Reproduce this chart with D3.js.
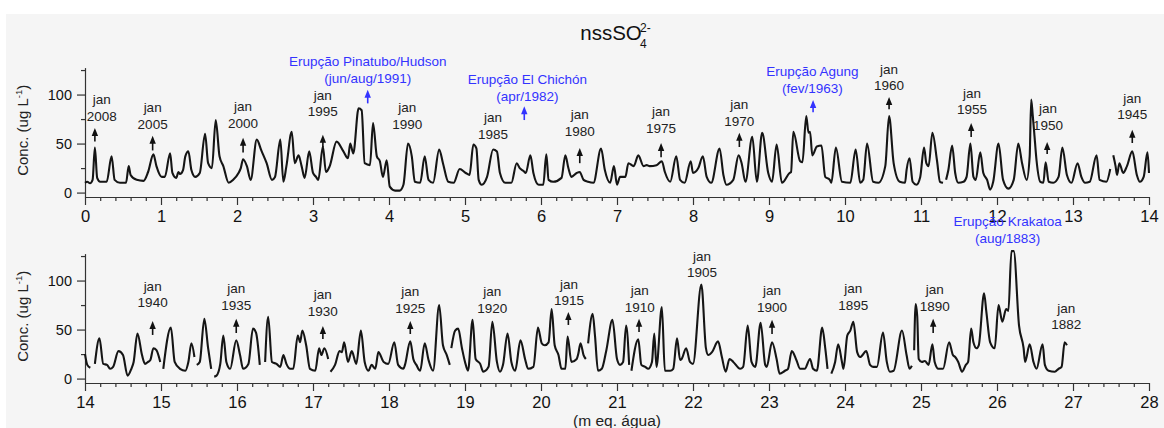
<!DOCTYPE html>
<html>
<head>
<meta charset="utf-8">
<script src="https://cdn.jsdelivr.net/npm/d3@7"></script>
<style>
body{margin:0;background:#fff;}
text{font-family:"Liberation Sans",Arial,sans-serif;}
.axis path,.axis line{stroke:#333;stroke-width:1.2;}
.axis text{fill:#111;font-family:"Liberation Sans",Arial,sans-serif;}
.xaxis text{font-size:16.5px;}
.yaxis text{font-size:14.5px;}
.series{fill:none;stroke:#151515;stroke-width:2.1;stroke-linejoin:round;}
.ann{font-size:13.5px;fill:#222;}
.volc{font-size:13.5px;fill:#3333ff;}
</style>
</head>
<body>
<svg id="chart" width="1164" height="428"></svg>
<script>
// ---- series (depth in m eq. agua, conc. in ug/L), null = gap in record
const topDepth = [0,0.03,0.066,0.10,0.13,0.16,0.20,0.285,0.35,0.39,0.46,0.54,0.575,0.60,0.68,0.77,0.83,0.90,0.94,1.01,
1.05,1.12,1.15,1.20,1.23,1.25,1.29,1.32,1.36,1.40,1.45,1.51,1.58,1.62,1.67,1.72,1.77,1.82,1.89,1.95,
2.02,2.05,2.08,2.13,2.18,2.26,2.32,2.39,2.46,2.50,2.57,2.61,2.65,2.72,2.76,2.81,2.85,2.89,2.95,3.00,
3.04,3.07,3.13,3.17,3.22,3.31,3.40,3.46,3.49,3.53,3.60,3.64,3.68,3.75,3.79,3.84,3.88,3.92,3.97,4.01,
4.08,4.14,4.19,4.25,4.30,4.34,4.41,4.47,4.52,4.58,4.66,4.71,4.78,4.85,4.93,5.01,5.06,5.11,5.15,5.18,
5.22,5.29,5.37,5.42,5.46,5.53,5.61,5.68,5.72,5.77,5.80,5.86,5.90,5.97,6.03,6.07,6.10,6.16,6.27,6.32,
6.36,6.40,6.47,6.51,6.56,6.62,6.69,6.79,6.84,6.91,6.96,7.00,7.04,7.11,7.15,7.22,7.28,7.35,7.39,7.43,
7.52,7.59,7.63,7.70,7.78,7.83,7.89,7.97,8.00,8.07,8.13,8.18,8.24,8.35,8.40,8.44,8.53,8.60,8.64,8.69,
8.78,8.84,8.91,8.99,9.04,9.10,9.17,9.27,9.29,9.32,9.41,9.44,9.49,9.52,9.54,9.57,9.63,9.69,9.74,9.80,
9.82,9.88,9.96,10.07,10.14,10.20,10.24,10.29,10.37,10.44,10.53,10.58,10.64,10.72,10.79,10.81,10.85,10.89,10.94,10.99,
11.04,11.07,11.10,11.15,11.21,11.25,11.29,null,11.33,11.36,11.41,11.45,11.49,11.56,11.60,11.65,11.69,11.72,11.78,11.82,
11.87,11.91,11.95,12.02,12.08,12.15,12.22,12.28,12.33,12.39,12.43,12.45,12.47,12.49,12.52,12.57,12.61,12.64,12.68,12.74,
12.81,12.86,12.92,12.98,13.06,13.11,13.16,13.22,13.31,13.35,13.44,13.49,null,13.53,13.56,13.58,13.61,13.66,13.71,13.78,
13.84,13.88,13.93,13.98,14.0];
const topConc = [10,11,9.5,13,46,15,11,11,37,13,10,10,27,18,13,12,21,39,27,16,
16,40,20,15,21,19,23,37,42,23,16,20,60,30,25,74,37,27,10,13,
20,25,34,27,13,54,43,30,13,16,54,11,27,62,30,38,27,15,42,20,
16,13,47,21,27,52,42,35,50,40,86,84,30,28,71,37,32,16,33,6,
2,2,8,50,37,11,10,37,13,10,44,30,11,10,24,20,18,49,45,13,
8,16,44,42,20,10,10,30,25,22,20,38,20,8,8,39,13,11,15,38,
25,16,20,21,13,11,10,45,23,10,27,8,16,16,30,27,38,27,28,27,
28,32,21,11,37,13,10,32,20,25,37,16,10,45,18,8,13,38,30,11,
57,11,61,20,11,49,10,20,21,62,32,31,78,61,62,38,47,48,16,13,
10,46,11,10,44,10,13,50,11,10,27,78,30,11,10,23,35,11,8,16,
46,30,27,61,33,11,10,null,13,23,48,20,10,11,16,50,16,13,41,20,
13,3,11,50,13,4,13,50,30,13,37,95,79,61,33,11,10,31,11,10,
16,46,18,10,30,16,10,11,38,13,11,24,null,38,27,18,30,20,27,42,
18,11,16,41,20];

const botDepth = [14.00,14.03,14.07,null,14.13,14.19,14.24,14.29,14.33,14.37,14.44,14.50,14.56,14.61,14.64,14.69,14.75,14.79,14.83,14.86,
14.90,14.94,14.99,null,15.03,15.13,15.18,15.25,15.32,15.36,15.40,15.44,null,15.47,15.51,15.57,15.62,15.66,null,15.70,
15.73,15.78,15.82,15.86,15.91,15.99,16.04,16.08,16.15,16.21,16.25,16.30,null,16.37,16.41,16.46,16.52,16.57,16.61,16.65,
16.70,16.74,16.80,16.83,16.86,16.91,16.96,17.03,17.08,17.11,17.15,17.20,null,17.23,17.29,17.35,17.38,17.41,17.46,17.51,
17.57,17.63,17.68,17.73,17.77,17.82,17.86,17.93,17.99,18.07,18.12,18.19,18.21,18.28,18.32,18.36,18.41,18.47,18.52,18.58,
18.66,18.71,18.76,18.80,null,18.82,18.87,18.91,18.96,19.00,19.04,19.10,19.14,19.20,19.24,19.31,19.36,19.42,19.46,19.50,
19.56,19.61,19.66,19.73,19.79,19.83,19.90,19.96,20.01,20.05,20.10,20.14,20.18,20.23,20.27,20.32,20.35,20.40,20.47,20.49,
20.52,20.56,20.59,null,20.62,20.68,20.71,20.75,20.80,20.86,20.94,21.00,21.04,21.08,21.12,21.16,null,21.19,21.28,21.32,
21.37,21.41,21.46,21.49,21.52,21.59,21.63,21.70,21.74,21.79,21.83,21.85,21.91,21.96,22.00,22.11,22.17,22.20,22.25,22.33,
22.38,22.43,22.48,22.53,22.62,22.66,22.72,22.77,22.82,22.89,22.95,22.97,23.04,23.10,23.14,23.21,23.25,23.30,23.36,23.41,
23.47,23.54,23.58,23.63,23.70,23.74,23.77,null,23.82,23.87,23.91,23.96,23.98,24.03,24.07,24.11,24.16,24.20,24.28,24.33,
24.37,24.42,24.50,24.55,24.59,24.64,24.75,24.81,24.85,24.88,null,24.91,24.93,24.95,24.97,25.01,25.05,25.10,25.15,25.18,
25.23,25.29,25.37,25.42,25.45,25.49,25.54,25.59,25.62,25.66,25.69,25.73,25.76,25.83,25.86,25.91,25.97,26.02,26.07,26.12,
26.15,26.19,26.22,26.29,26.35,26.37,26.43,26.48,26.52,26.60,26.63,26.68,26.76,26.81,26.85,26.89,26.92];
const botConc = [25,14,11,null,15,41,15,14,10,12,28,24,3,10,17,46,24,15,17,19,
31,29,17,null,10,52,17,10,8,17,36,22,null,14,17,61,31,10,null,2,
3,15,44,17,10,39,24,10,15,51,47,14,null,17,63,17,15,12,24,15,
10,10,44,37,49,34,10,8,31,24,31,20,null,7,14,28,27,37,17,28,
15,49,17,8,14,10,27,17,15,37,14,10,14,38,20,14,8,36,19,8,
75,34,24,14,null,31,49,51,31,17,8,60,20,15,7,12,58,17,7,14,
46,17,8,39,20,10,12,52,36,34,37,71,34,24,10,10,43,17,20,25,
36,24,20,null,36,66,44,8,10,29,60,20,14,17,54,14,null,8,40,14,
12,10,17,46,12,73,8,8,10,41,19,20,31,17,15,96,31,24,27,38,
22,7,20,17,10,12,54,17,12,57,14,12,37,20,5,8,10,28,19,10,
10,20,10,8,52,31,10,null,5,17,35,17,10,44,49,58,27,22,28,14,
12,12,47,17,7,8,49,24,10,13,null,29,76,64,20,17,18,14,35,17,
10,10,37,24,22,17,7,14,17,51,37,31,34,87,68,37,31,75,58,71,
69,130,130,54,31,17,35,17,10,35,14,8,7,10,12,37,34];

// ---- annotations
const topJanYear  = ["2008","2005","2000","1995","1990","1985","1980","1975","1970","1960","1955","1950","1945"];
const topJanDepth = [0.22,0.89,2.08,3.13,4.24,5.37,6.51,7.58,8.61,10.58,11.67,12.67,13.78];
const topJanLevel = [90,82,83,94.5,82,72,75,78,85,121,96.5,81,91.4];
const topArrowDepth = [0.13,0.89,2.08,3.13,6.51,7.58,8.61,10.58,11.66,12.66,13.78];
const topArrowTip   = [66,58,56,59,45.5,50.6,61,97.6,71,51.6,64];
const topArrowBase  = [52,43,41,46.5,30,36,46.5,85,56.7,39.4,50.6];
const topVolcName  = ["Erupção Pinatubo/Hudson","Erupção El Chichón","Erupção Agung"];
const topVolcDate  = ["(jun/aug/1991)","(apr/1982)","(fev/1963)"];
const topVolcDepth = [3.72,5.82,9.57];
const topVolcLevel = [129,111,119];
const topVolcArrowDepth = [3.72,5.78,9.58];
const topVolcArrowTip   = [105,88,94.5];
const topVolcArrowBase  = [91,74,82];

const botJanYear  = ["1940","1935","1930","1925","1920","1915","1910","1905","1900","1895","1890","1882"];
const botJanDepth = [14.89,15.99,17.13,18.28,19.36,20.37,21.30,22.12,23.04,24.11,25.18,26.91];
const botJanLevel = [89.4,87,81,84,84,91.4,85,120,85,87,86,67];
const botArrowDepth = [14.89,15.99,17.13,18.28,20.36,21.29,23.04,25.16];
const botArrowTip   = [58.8,61,53.7,58.8,68,61,60,61];
const botArrowBase  = [44.5,46.5,40.4,45.5,54.7,47.6,45.5,46.5];
const botVolcName  = ["Erupção Krakatoa"];
const botVolcDate  = ["(aug/1883)"];
const botVolcDepth = [26.14];
const botVolcLevel = [155.7];

const yTicks = [0,50,100];
const yMinorTicks = [25,75,125];

const MARGIN = {left: 85, right: 15};
const PLOT_H = 129.4;
const svg = d3.select("#chart");

svg.append("rect").attr("x",6).attr("y",14).attr("width",1158).attr("height",414).attr("fill","#f5f5f5");

function arrow(g, x, yTip, yBase, colour){
  g.append("line").attr("x1",x).attr("x2",x).attr("y1",yBase).attr("y2",yTip+6)
    .attr("stroke",colour).attr("stroke-width",1.6);
  g.append("path").attr("d",`M${x},${yTip}L${x-3.2},${yTip+8}L${x+3.2},${yTip+8}Z`).attr("fill",colour);
}

function drawPanel(p){
  const x = d3.scaleLinear().domain([p.x0, p.x1]).range([MARGIN.left, 1164 - MARGIN.right]);
  const y = d3.scaleLinear().domain([-4.5, 127.5]).range([p.bottom, p.bottom - PLOT_H]);
  const g = svg.append("g");

  const ticks = d3.range(p.x0, p.x1 + 1);
  const minor = d3.range(p.x0*5, p.x1*5 + 1).filter(d => d % 5 != 0).map(d => d/5);

  g.append("g").attr("class","axis").attr("transform",`translate(0,${p.bottom})`)
    .call(d3.axisBottom(x).tickValues(minor).tickSize(4).tickSizeOuter(0).tickFormat(""))
    .select(".domain").remove();
  g.append("g").attr("class","axis xaxis").attr("transform",`translate(0,${p.bottom})`)
    .call(d3.axisBottom(x).tickValues(ticks).tickSize(8).tickSizeOuter(0).tickPadding(5).tickFormat(d3.format("d")));

  g.append("g").attr("class","axis").attr("transform",`translate(${MARGIN.left},0)`)
    .call(d3.axisLeft(y).tickValues(yMinorTicks).tickSize(4).tickSizeOuter(0).tickFormat(""))
    .select(".domain").remove();
  g.append("g").attr("class","axis yaxis").attr("transform",`translate(${MARGIN.left},0)`)
    .call(d3.axisLeft(y).tickValues(yTicks).tickSize(8).tickSizeOuter(0).tickPadding(5));

  // y label
  const lab = g.append("text").attr("transform",`translate(28,${p.bottom - PLOT_H/2 - 2}) rotate(-90)`)
    .attr("text-anchor","middle").attr("font-size",15).attr("fill","#222");
  lab.append("tspan").text("Conc. (ug L");
  lab.append("tspan").attr("dy",-6).attr("font-size",9.5).text("-1");
  lab.append("tspan").attr("dy",6).text(")");

  const pts = p.depth.map((d,i) => ({d: d, v: p.conc[i]}));
  const line = d3.line()
    .defined(d => d.v != null)
    .x(d => x(d.d))
    .y(d => y(d.v))
    .curve(d3.curveMonotoneX);
  g.append("path").datum(pts).attr("class","series").attr("d", line);

  // jan labels
  const ann = g.append("g");
  p.janYear.forEach((yr,i) => {
    const t = ann.append("text").attr("class","ann").attr("text-anchor","middle")
      .attr("x", x(p.janDepth[i])).attr("y", y(p.janLevel[i]));
    t.append("tspan").text("jan");
    t.append("tspan").attr("x", x(p.janDepth[i])).attr("dy",16.5).text(yr);
  });
  p.arrowDepth.forEach((d,i) => arrow(ann, x(d), y(p.arrowTip[i]), y(p.arrowBase[i]), "#111"));

  p.volcName.forEach((nm,i) => {
    const t = ann.append("text").attr("class","volc").attr("text-anchor","middle")
      .attr("x", x(p.volcDepth[i])).attr("y", y(p.volcLevel[i]));
    t.append("tspan").text(nm);
    t.append("tspan").attr("x", x(p.volcDepth[i])).attr("dy",17).text(p.volcDate[i]);
  });
  p.volcArrowDepth.forEach((d,i) => arrow(ann, x(d), y(p.volcArrowTip[i]), y(p.volcArrowBase[i]), "#3333ff"));
}

drawPanel({x0:0, x1:14, bottom:197, depth:topDepth, conc:topConc,
  janYear:topJanYear, janDepth:topJanDepth, janLevel:topJanLevel,
  arrowDepth:topArrowDepth, arrowTip:topArrowTip, arrowBase:topArrowBase,
  volcName:topVolcName, volcDate:topVolcDate, volcDepth:topVolcDepth, volcLevel:topVolcLevel,
  volcArrowDepth:topVolcArrowDepth, volcArrowTip:topVolcArrowTip, volcArrowBase:topVolcArrowBase});

drawPanel({x0:14, x1:28, bottom:383, depth:botDepth, conc:botConc,
  janYear:botJanYear, janDepth:botJanDepth, janLevel:botJanLevel,
  arrowDepth:botArrowDepth, arrowTip:botArrowTip, arrowBase:botArrowBase,
  volcName:botVolcName, volcDate:botVolcDate, volcDepth:botVolcDepth, volcLevel:botVolcLevel,
  volcArrowDepth:[], volcArrowTip:[], volcArrowBase:[]});

// title
svg.append("text").attr("x",611).attr("y",40).attr("text-anchor","middle").attr("font-size",20.5).attr("fill","#111").text("nssSO");
svg.append("text").attr("x",640).attr("y",32).attr("font-size",12).attr("fill","#111").text("2-");
svg.append("text").attr("x",640).attr("y",48).attr("font-size",12).attr("fill","#111").text("4");

// x title
svg.append("text").attr("x",617).attr("y",426).attr("text-anchor","middle").attr("font-size",15.5).attr("fill","#222").text("(m eq. água)");
</script>
</body>
</html>
